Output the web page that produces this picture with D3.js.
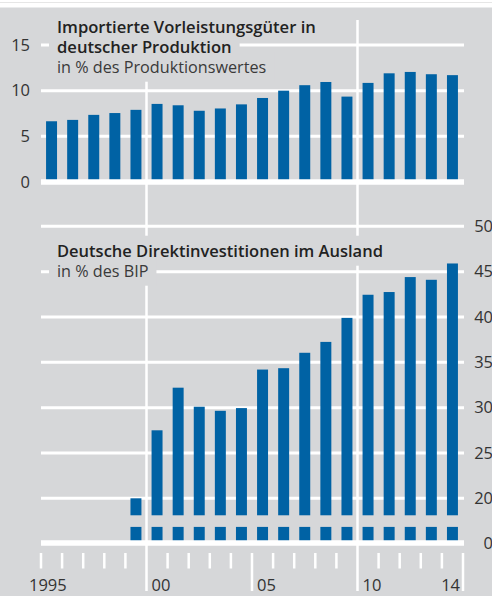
<!DOCTYPE html>
<html><head><meta charset="utf-8">
<script src="https://cdn.jsdelivr.net/npm/d3@7"></script>
<style>
html,body{margin:0;padding:0;background:#fff;}
svg{display:block;}
text{font-family:"Open Sans","Noto Sans",sans-serif;fill:#333;}
</style></head>
<body>
<script>
// ---- data ----
const years = d3.range(1995, 2015);
const importShare = [6.65, 6.8, 7.35, 7.55, 7.9, 8.55, 8.4, 7.8, 8.05, 8.5,
                     9.2, 10.0, 10.6, 10.95, 9.35, 10.85, 11.9, 12.05, 11.8, 11.7];
const fdiYears = d3.range(1999, 2015);
const fdiShare = [20.0, 27.5, 32.2, 30.1, 29.65, 29.95, 34.2, 34.35, 36.05, 37.25,
                  39.9, 42.45, 42.75, 44.4, 44.1, 45.9];
const topTicks = [0, 5, 10, 15];
const bottomTicks = [0, 20, 25, 30, 35, 40, 45, 50];
const xLabels = [{year: 1995, text: "1995"}, {year: 2000, text: "00"}, {year: 2005, text: "05"},
                 {year: 2010, text: "10"}, {year: 2014, text: "14"}];
const topTitle = ["Importierte Vorleistungsgüter in", "deutscher Produktion"];
const topSub = "in % des Produktionswertes";
const botTitle = "Deutsche Direktinvestitionen im Ausland";
const botSub = "in % des BIP";

// ---- layout ----
const W = 492, H = 596;
const BG = "#d6d7d9", BLUE = "#0062a4";
const svg = d3.select("body").append("svg").attr("width", W).attr("height", H);

svg.append("rect").attr("x", 0).attr("y", 0).attr("width", W).attr("height", H).attr("fill", "#fff");
svg.append("line").attr("x1", 0).attr("x2", W).attr("y1", 2.5).attr("y2", 2.5).attr("stroke", "#e6e6e6").attr("stroke-width", 1);
svg.append("rect").attr("x", 0).attr("y", 7.5).attr("width", W).attr("height", H - 7.5).attr("fill", BG);

const x0 = 41, x1 = 463;
const xb = d3.scaleBand().domain(years).range([x0, x1]);
const xBar = d3.scaleBand().domain(years).range([x0, x1]).paddingInner(0.48).paddingOuter(0.24);
const yTop = d3.scaleLinear().domain([0, 15]).range([182, 45]);
const yBot = d3.scaleLinear().domain([0, 20, 50]).range([543, 498.3, 226.3]);
const breakLo = 7.2, breakHi = 12.4;

// gridlines
const grid = svg.append("g").attr("stroke", "#fff");
grid.selectAll(".gt").data(topTicks.filter(d => d !== 0)).join("line")
  .attr("x1", x0).attr("x2", x1 + 1).attr("y1", d => yTop(d)).attr("y2", d => yTop(d)).attr("stroke-width", 3);
grid.selectAll(".gb").data(bottomTicks.filter(d => d !== 0)).join("line")
  .attr("x1", x0).attr("x2", x1 + 1).attr("y1", d => yBot(d)).attr("y2", d => yBot(d)).attr("stroke-width", 3);

// vertical separators
const seps = [2000, 2010];
grid.selectAll(".vs").data(seps).join("line")
  .attr("x1", d => xb(d)).attr("x2", d => xb(d)).attr("y1", 20).attr("y2", 591).attr("stroke-width", 2.5);

// x ticks
const bounds = years.map(y => ({year: y, x: xb(y)})).concat([{year: 2015, x: xb(2014) + xb.bandwidth()}]);
grid.selectAll(".xt").data(bounds.filter(d => !seps.includes(d.year))).join("line")
  .attr("x1", d => d.x).attr("x2", d => d.x).attr("y1", 553)
  .attr("y2", d => (d.year === 2005 || d.year === 2015) ? 591 : 568.5).attr("stroke-width", 2.5);

// title masks + titles
function titleBlock(lines, y0) {
  const g = svg.append("g");
  lines.forEach((ln, i) => {
    const t = g.append("text").attr("x", 57).attr("y", y0 + i * 20)
      .attr("font-size", ln.size).attr("font-weight", ln.bold ? 600 : 400)
      .style("fill", ln.bold ? "#222" : "#3a3a3a").text(ln.text);
    const bb = t.node().getBBox();
    g.insert("rect", "text").attr("x", 49).attr("y", y0 + i * 20 - 21)
      .attr("width", bb.width + 16).attr("height", 30).attr("fill", BG);
  });
}
titleBlock([{text: topTitle[0], bold: true, size: 16.6}, {text: topTitle[1], bold: true, size: 16.6},
            {text: topSub, bold: false, size: 16.2}], 32.7);
titleBlock([{text: botTitle, bold: true, size: 16.5}, {text: botSub, bold: false, size: 16.2}], 256.7);

// bars top
svg.append("g").selectAll("rect").data(years.map((y, i) => ({year: y, v: importShare[i]}))).join("rect")
  .attr("x", d => xBar(d.year)).attr("width", xBar.bandwidth())
  .attr("y", d => yTop(d.v)).attr("height", d => yTop(0) - yTop(d.v)).attr("fill", BLUE);

// bars bottom (broken axis)
const fdi = fdiYears.map((y, i) => ({year: y, v: fdiShare[i]}));
const gb = svg.append("g").attr("fill", BLUE);
gb.selectAll(".lo").data(fdi).join("rect")
  .attr("x", d => xBar(d.year)).attr("width", xBar.bandwidth())
  .attr("y", yBot(breakLo)).attr("height", yBot(0) - yBot(breakLo));
gb.selectAll(".hi").data(fdi).join("rect")
  .attr("x", d => xBar(d.year)).attr("width", xBar.bandwidth())
  .attr("y", d => yBot(d.v)).attr("height", d => yBot(breakHi) - yBot(d.v));

// zero lines
svg.append("line").attr("x1", x0).attr("x2", x1 + 1).attr("y1", yTop(0)).attr("y2", yTop(0)).attr("stroke", "#fff").attr("stroke-width", 5.5);
svg.append("line").attr("x1", x0).attr("x2", x1 + 1).attr("y1", yBot(0)).attr("y2", yBot(0)).attr("stroke", "#fff").attr("stroke-width", 5.5);

// axis labels
svg.append("g").selectAll("text").data(topTicks).join("text")
  .attr("x", 30).attr("y", d => yTop(d)).attr("dy", "0.35em").attr("text-anchor", "end")
  .attr("font-size", 16.5).text(d => d);
svg.append("g").selectAll("text").data(bottomTicks).join("text")
  .attr("x", 493).attr("y", d => yBot(d)).attr("dy", "0.35em").attr("text-anchor", "end")
  .attr("font-size", 16.5).text(d => d);
svg.append("g").selectAll("text").data(xLabels).join("text")
  .attr("x", d => d.year === 1995 ? xb(d.year) - 12 : d.year === 2014 ? xb(d.year) + xb.bandwidth() - 3 : xb(d.year) + 5)
  .attr("text-anchor", d => d.year === 2014 ? "end" : "start")
  .attr("y", 591).attr("font-size", 16.5).text(d => d.text);
</script>
</body></html>
